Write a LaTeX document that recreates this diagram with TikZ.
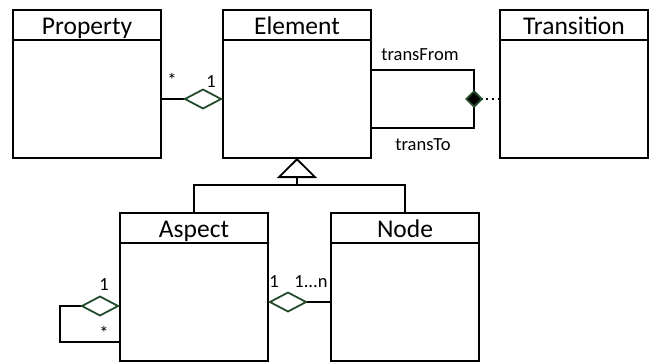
\documentclass[tikz,border=0pt]{standalone}
\usepackage{fontspec}
\setmainfont{Carlito}
\usetikzlibrary{arrows.meta,positioning}
\definecolor{aggreen}{RGB}{36,76,44}
\begin{document}
\begin{tikzpicture}[x=1pt,y=-1pt,line width=1.8pt,
  classhead/.style={draw,outer sep=0pt,inner sep=0pt,minimum width=148pt,minimum height=30pt,
    text height=20pt,text depth=2pt,font=\fontsize{25.5}{25.5}\selectfont,anchor=north west},
  classbody/.style={draw,outer sep=0pt,inner sep=0pt,minimum width=148pt,minimum height=118pt,
    below=0pt of #1},
  mult/.style={inner sep=0pt,font=\fontsize{18.5}{18.5}\selectfont},
  agg/.style={-{Diamond[open,length=40pt,width=21pt,color=aggreen,fill=white]}},
  comp/.style={-{Diamond[length=18pt,width=18pt,color=aggreen,fill=black]}},
  inherit/.style={-{Triangle[open,length=20pt,width=40pt,fill=white]}}]
\useasboundingbox (0,0) rectangle (649,362);
% classes
\node[classhead] (prophead) at (13,10) {Property};
\node[classbody=prophead] (propbody) {};
\node[classhead] (elemhead) at (223,10) {Element};
\node[classbody=elemhead] (elembody) {};
\node[classhead] (transhead) at (500,10) {Transition};
\node[classbody=transhead] (transbody) {};
\node[classhead] (asphead) at (120,213) {Aspect};
\node[classbody=asphead] (aspbody) {};
\node[classhead] (nodehead) at (331,213) {Node};
\node[classbody=nodehead] (nodebody) {};
% generalisation
\coordinate (bar) at ([yshift=-27pt]elembody.south);
\draw[inherit] (bar) -- (elembody.south);
\draw (asphead.north) |- (bar) -| (nodehead.north);
% property -- element
\draw[agg] (propbody.east) -- (elembody.west);
\node[mult] (pstar) at (172,80) {*};
\node[mult] (pone) at (211,82) {1};
% element -- transition
\coordinate (jn) at (474,99);
\draw ([yshift=29pt]elembody.east) -| (jn) |- ([yshift=-29pt]elembody.east);
\draw[comp,dash pattern=on 2pt off 4pt] (transbody.west) -- ([xshift=-9pt]jn);
\node[mult] (tfrom) at (420,55) {transFrom};
\node[mult] (tto) at (423,145) {transTo};
% aspect self loop
\draw[agg] ([yshift=-40pt]aspbody.west) -- ++(-60,0) |- ([yshift=-4pt]aspbody.west);
\node[mult] (aone) at (104,285) {1};
\node[mult] (astar) at (104,333) {*};
% aspect -- node
\draw[agg] (nodebody.west) -- (aspbody.east);
\node[mult] (none) at (274,282) {1};
\node[mult] (nmany) at (311,282) {1...n};
\end{tikzpicture}
\end{document}
